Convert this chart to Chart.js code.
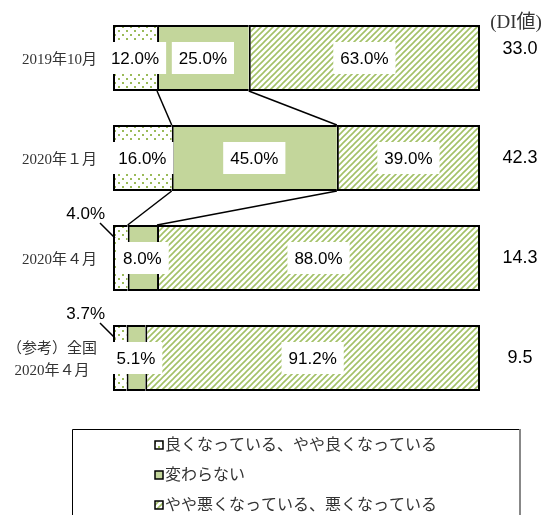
<!DOCTYPE html>
<html>
<head>
  <meta charset="UTF-8">
  <title>DI chart</title>
  <script src="https://cdn.jsdelivr.net/npm/chart.js"></script>
  <style>
    body { margin: 0; background: #fff; }
  </style>
</head>
<body>
  <canvas id="diChart" width="545" height="515"></canvas>

  <script>
    // values
    const categories = [['2019年10月'], ['2020年１月'], ['2020年４月'], ['（参考）全国', '2020年４月']];
    const seriesNames = ['良くなっている、やや良くなっている', '変わらない', 'やや悪くなっている、悪くなっている'];
    const goodValues = [12.0, 16.0, 4.0, 3.7];
    const sameValues = [25.0, 45.0, 8.0, 5.1];
    const badValues = [63.0, 39.0, 88.0, 91.2];
    const diValues = ['33.0', '42.3', '14.3', '9.5'];

    const serif = '"Liberation Serif", "Noto Sans CJK JP", serif';
    const sans = '"Liberation Sans", Arial, sans-serif';

    function makeTile(w, h, draw) {
      const c = document.createElement('canvas');
      c.width = w; c.height = h;
      const g = c.getContext('2d');
      g.fillStyle = '#fff';
      g.fillRect(0, 0, w, h);
      draw(g);
      return g.createPattern(c, 'repeat');
    }

    const dots = makeTile(8, 8, g => {
      g.fillStyle = '#9bbb59';
      g.fillRect(2, 2, 2, 2);
      g.fillRect(6, 6, 2, 2);
    });
    const stripes = makeTile(6, 6, g => {
      g.strokeStyle = '#a3c167';
      g.lineWidth = 1.6;
      g.beginPath();
      g.moveTo(0, 6); g.lineTo(6, 0);
      g.moveTo(-1, 1); g.lineTo(1, -1);
      g.moveTo(5, 7); g.lineTo(7, 5);
      g.stroke();
    });
    const fills = [dots, '#c3d69b', stripes];

    // labels, connectors, DI column and legend
    const overlay = {
      id: 'overlay',
      afterDatasetsDraw(chart) {
        const ctx = chart.ctx;
        const metas = [0, 1, 2].map(i => chart.getDatasetMeta(i));
        ctx.save();

        // connector lines between the first three bars
        ctx.strokeStyle = '#000';
        ctx.lineWidth = 1.5;
        for (let i = 0; i < 2; i++) {
          for (let d = 0; d < 2; d++) {
            const a = metas[d].data[i], b = metas[d].data[i + 1];
            ctx.beginPath();
            ctx.moveTo(a.x, a.y + a.height / 2);
            ctx.lineTo(b.x, b.y - b.height / 2);
            ctx.stroke();
          }
        }

        // percent labels
        ctx.font = '17px ' + sans;
        ctx.textBaseline = 'middle';
        metas.forEach((meta, d) => {
          const vals = chart.data.datasets[d].data;
          meta.data.forEach((el, i) => {
            const txt = vals[i].toFixed(1) + '%';
            const left = el.base, top = el.y - el.height / 2;
            if (vals[i] < 5 && d === 0) {
              ctx.fillStyle = '#000';
              ctx.textAlign = 'right';
              ctx.fillText(txt, left - 8, top - 11);
              ctx.beginPath();
              ctx.moveTo(left - 13, top - 2);
              ctx.lineTo(left + 2, top + 13);
              ctx.stroke();
              return;
            }
            const cx = (el.base + el.x) / 2;
            const w = ctx.measureText(txt).width + 14;
            ctx.fillStyle = '#fff';
            ctx.fillRect(cx - w / 2, el.y - 16, w, 32);
            ctx.fillStyle = '#000';
            ctx.textAlign = 'center';
            ctx.fillText(txt, cx, el.y + 1);
          });
        });

        // category labels
        ctx.font = '15px ' + serif;
        ctx.fillStyle = '#333';
        ctx.textAlign = 'center';
        const right = chart.chartArea.left - 16;
        categories.forEach((lines, i) => {
          const y = chart.scales.y.getPixelForValue(i);
          const w = Math.max(...lines.map(t => ctx.measureText(t).width));
          lines.forEach((t, k) => {
            ctx.fillText(t, right - w / 2, y + (k - (lines.length - 1) / 2) * 22 + 2);
          });
        });

        // DI column
        const dx = chart.chartArea.right + 40;
        ctx.font = '19px ' + serif;
        ctx.fillText('(DI値)', dx - 4, 23);
        ctx.font = '18px ' + sans;
        ctx.fillStyle = '#000';
        diValues.forEach((v, i) => {
          const y = chart.scales.y.getPixelForValue(i);
          ctx.fillText(v, dx, i === 0 ? y - 9 : y);
        });

        // legend box
        ctx.lineWidth = 1;
        ctx.strokeStyle = '#000';
        ctx.beginPath();
        ctx.moveTo(72.5, 530); ctx.lineTo(72.5, 429.5); ctx.lineTo(519, 429.5);
        ctx.stroke();
        ctx.strokeStyle = '#888';
        ctx.lineWidth = 2;
        ctx.beginPath();
        ctx.moveTo(520, 429); ctx.lineTo(520, 530);
        ctx.stroke();

        ctx.font = '16px ' + serif;
        ctx.textAlign = 'left';
        seriesNames.forEach((name, k) => {
          const y = 445 + k * 30;
          ctx.fillStyle = fills[k];
          ctx.fillRect(155, y - 4, 8, 8);
          ctx.strokeStyle = '#000';
          ctx.lineWidth = 1.5;
          ctx.strokeRect(155, y - 4, 8, 8);
          ctx.fillStyle = '#333';
          ctx.fillText(name, 165, y + 1);
        });
        ctx.restore();
      }
    };

    const borders = [
      { top: 2, bottom: 2, left: 2, right: 0 },
      { top: 2, bottom: 2, left: 2, right: 0 },
      { top: 2, bottom: 2, left: 2, right: 2 }
    ];

    new Chart(document.getElementById('diChart'), {
      type: 'bar',
      data: {
        labels: categories,
        datasets: [goodValues, sameValues, badValues].map((vals, d) => ({
          label: seriesNames[d],
          data: vals,
          backgroundColor: fills[d],
          borderColor: '#000',
          borderWidth: borders[d],
          borderSkipped: false,
          barPercentage: 0.66,
          categoryPercentage: 1
        }))
      },
      options: {
        indexAxis: 'y',
        responsive: false,
        animation: false,
        layout: { padding: { left: 113, right: 65, top: 8, bottom: 107 } },
        scales: {
          x: { stacked: true, min: 0, max: 100, display: false },
          y: { stacked: true, display: false }
        },
        plugins: { legend: { display: false }, tooltip: { enabled: false } }
      },
      plugins: [overlay]
    });
  </script>
</body>
</html>
